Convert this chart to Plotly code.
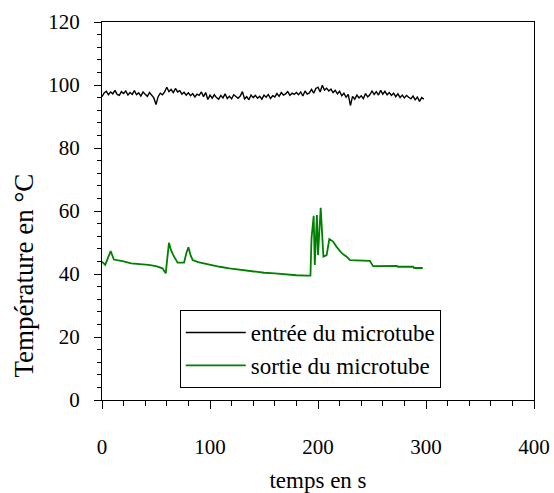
import plotly.graph_objects as go

# Black series: entrée du microtube (time in s, temperature in °C)
t_entree = list(range(0, 300, 2))
T_entree = [
    96.3, 97.5, 98.0, 96.9, 97.8, 97.2, 98.3, 97.0, 96.7, 97.9,
    97.3, 98.1, 96.8, 97.6, 97.0, 98.2, 96.9, 97.5, 96.5, 97.8,
    97.1, 96.4, 97.6, 96.8, 95.9, 93.8, 96.3, 97.4, 96.9, 97.8,
    99.3, 97.9, 98.6, 97.6, 98.9, 97.8, 98.2, 97.1, 97.7, 96.8,
    97.5, 96.6, 97.3, 96.2, 97.1, 96.7, 97.8, 96.3, 97.6, 95.4,
    96.8, 95.8, 96.9, 96.0, 95.5, 96.7, 95.9, 97.2, 95.7, 96.4,
    95.6, 96.9, 96.2, 95.8, 96.5, 97.9, 95.6, 96.3, 95.3, 96.8,
    96.0, 96.7, 95.8, 96.4, 95.5, 96.8, 96.1, 97.0, 95.7, 96.6,
    96.2, 97.3, 96.4, 97.6, 96.8, 97.2, 97.9, 96.7, 97.4, 97.0,
    97.6, 96.9, 97.8, 96.5, 98.1, 97.1, 97.5, 98.6, 97.4, 98.9,
    99.3, 97.8, 99.9, 98.4, 99.0, 98.1, 98.7, 97.6, 98.3, 97.2,
    98.0, 96.6, 97.4, 96.1, 97.0, 93.5, 96.4, 95.5, 96.8, 95.9,
    96.6, 95.7, 97.3, 96.2, 96.9, 98.1, 97.0, 97.9, 96.8, 98.3,
    97.1, 98.0, 96.9, 97.6, 96.7, 97.4, 96.3, 97.2, 96.0, 96.8,
    95.9, 96.7, 96.1, 95.6, 96.5, 95.3, 96.2, 94.8, 96.0, 95.5,
]

# Green series: sortie du microtube
t_sortie = [0, 3, 6, 8, 11, 15, 20, 27, 35, 43, 50, 56, 59, 62, 64, 66, 70, 76,
            78, 80, 82, 84, 89, 95, 100, 109, 118, 129, 140, 150, 160, 170, 180,
            190, 193, 194, 196, 197, 199, 200, 202.5, 205, 208, 210.5, 214, 217,
            222, 226.5, 229.6, 248, 251, 273, 274, 288, 289, 297]
T_sortie = [43.9, 42.9, 45.5, 47.3, 44.6, 44.4, 44.0, 43.4, 43.2, 42.9, 42.5,
            41.8, 40.2, 49.9, 47.5, 46.0, 43.6, 43.6, 46.5, 48.5, 46.0, 44.4,
            43.8, 43.3, 42.9, 42.3, 41.8, 41.3, 40.7, 40.4, 40.2, 39.8, 39.6,
            39.5, 39.5, 51.3, 58.5, 42.9, 58.7, 46.0, 61.0, 45.5, 46.0, 51.1,
            50.3, 48.7, 46.6, 45.5, 44.4, 44.2, 42.5, 42.6, 42.3, 42.3, 41.9, 41.9]

names = ["entrée du microtube", "sortie du microtube"]
x_title = "temps en s"
y_title = "Température en °C"

FONT = "Liberation Serif, Times New Roman, serif"

fig = go.Figure()
fig.add_trace(go.Scatter(x=t_entree, y=T_entree, mode="lines", name=names[0],
                         line=dict(color="black", width=1.4)))
fig.add_trace(go.Scatter(x=t_sortie, y=T_sortie, mode="lines", name=names[1],
                         line=dict(color="#008000", width=1.8)))

axis_common = dict(
    showline=True, linecolor="black", linewidth=1.3, mirror=True,
    showgrid=False, zeroline=False, automargin=False,
    ticks="outside", tickcolor="black", tickwidth=1.3,
    tickfont=dict(family=FONT, size=21, color="black"),
    ticklabeloverflow="allow",
)

fig.update_xaxes(range=[0, 400], dtick=100, tick0=0, ticklen=8,
                 ticklabelstandoff=20,
                 minor=dict(dtick=20, ticks="outside", ticklen=5, tickcolor="black", tickwidth=1.3),
                 title=dict(text=x_title, font=dict(family=FONT, size=23, color="black"), standoff=22),
                 **axis_common)
fig.update_yaxes(range=[0, 120], dtick=20, tick0=0, ticklen=7,
                 ticklabelstandoff=10,
                 minor=dict(dtick=4, ticks="outside", ticklen=4, tickcolor="black", tickwidth=1.3),
                 **axis_common)

fig.add_annotation(text=y_title, textangle=-90, xref="paper", yref="paper",
                   x=-0.18, y=0.33, xanchor="center", yanchor="middle",
                   showarrow=False, font=dict(family=FONT, size=27, color="black"))

fig.update_layout(
    width=554, height=493,
    margin=dict(l=102, r=20, t=22, b=93),
    plot_bgcolor="white", paper_bgcolor="white",
    font=dict(family=FONT, color="black"),
    legend=dict(x=0.18, y=0.238, xanchor="left", yanchor="top",
                bordercolor="black", borderwidth=1, bgcolor="white",
                font=dict(family=FONT, size=23, color="black"),
                itemwidth=60, tracegroupgap=0),
    showlegend=True,
)

fig.write_html("out.html", config={"displayModeBar": False},
               post_script="document.body.style.margin='0';document.body.style.overflow='hidden';")
